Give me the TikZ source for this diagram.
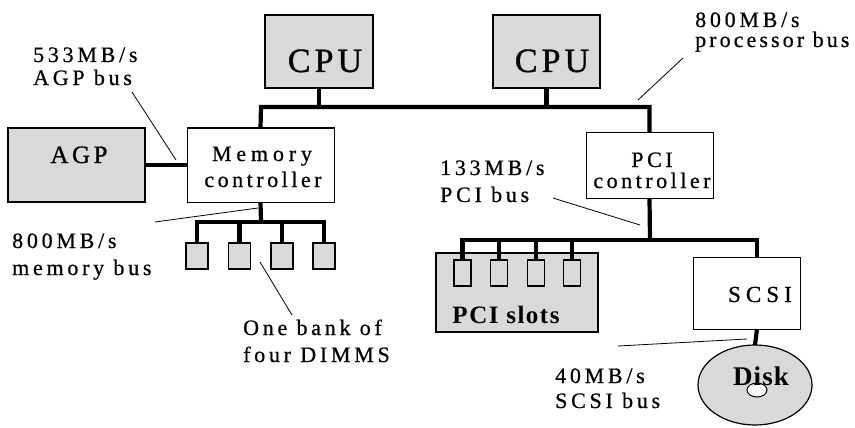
\documentclass[tikz,border=0pt]{standalone}
\usepackage{fontspec}
\setmainfont{Liberation Serif}
\usetikzlibrary{shapes.geometric}
\tikzset{
  bus/.style={line width=4.2pt},
  lead/.style={line width=0.8pt},
  graybox/.style={draw, line width=1.2pt, fill=black!15, inner sep=0pt, outer sep=0pt},
  whitebox/.style={draw, line width=1pt, fill=white, inner sep=0pt, outer sep=0pt},
  lbl/.style={font=\fontsize{22}{24}\selectfont\addfontfeature{LetterSpace=17,FakeBold=0.6}, inner sep=0pt, anchor=base west},
  boxtxt/.style={font=\fontsize{22}{24}\selectfont\addfontfeature{LetterSpace=16,FakeBold=0.6}, inner sep=0pt, anchor=base},
  bigtxt/.style={font=\fontsize{34}{36}\selectfont\addfontfeature{LetterSpace=12,FakeBold=1}, inner sep=0pt, anchor=base},
  boldtxt/.style={font=\fontsize{25}{27}\selectfont\bfseries\addfontfeature{LetterSpace=6}, inner sep=0pt, anchor=base},
}
\begin{document}
\begin{tikzpicture}[x=1pt,y=-1pt]
\useasboundingbox (0,0) rectangle (855,428);
% boxes
\node[graybox, minimum width=108pt, minimum height=73pt] (cpu1) at (319,51.5) {};
\node[graybox, minimum width=107pt, minimum height=73pt] (cpu2) at (546.5,51.5) {};
\node[graybox, minimum width=137pt, minimum height=74pt] (agp) at (76.5,165) {};
\node[whitebox, minimum width=147pt, minimum height=74pt] (mc) at (260.5,165) {};
\node[whitebox, minimum width=127pt, minimum height=66pt] (pci) at (649.5,165) {};
\node[graybox, minimum width=162pt, minimum height=79pt] (slots) at (517,292.5) {};
\node[whitebox, minimum width=107pt, minimum height=72pt] (scsi) at (746.5,293) {};
\node[graybox, ellipse, minimum width=114pt, minimum height=80pt] (disk) at (755,385) {};
\node[draw, line width=1pt, fill=white, ellipse, minimum width=20pt, minimum height=14pt, inner sep=0pt] (hole) at (757,390) {};
% DIMMs
\foreach \i/\x in {1/197,2/239.5,3/282,4/324}
  \node[graybox, minimum width=22pt, minimum height=26pt] (d\i) at (\x,256) {};
% slots
\foreach \i/\x in {1/462.5,2/499,3/536,4/572}
  \node[graybox, minimum width=17pt, minimum height=26pt] (s\i) at (\x,273) {};
% box texts
\node[bigtxt] (cpu1t) at (325,72) {CPU};
\node[bigtxt] (cpu2t) at (552,72) {CPU};
\node[boxtxt, font=\fontsize{25}{27}\selectfont\addfontfeature{LetterSpace=14,FakeBold=0.8}] (agpt) at (79,163) {AGP};
\node[boxtxt, font=\fontsize{22}{24}\selectfont\addfontfeature{LetterSpace=22,FakeBold=0.6}] (mct1) at (262,161) {Memory};
\node[boxtxt] (mct2) at (263,187) {controller};
\node[boxtxt] (pcit1) at (652,167) {PCI};
\node[boxtxt] (pcit2) at (652,188) {controller};
\node[boxtxt, font=\fontsize{23}{25}\selectfont\addfontfeature{LetterSpace=22,FakeBold=0.6}] (scsit) at (760,302) {SCSI};
\node[boldtxt] (slotst) at (506,323) {PCI slots};
\node[boldtxt, font=\fontsize{27}{29}\selectfont\bfseries\addfontfeature{LetterSpace=4}] (diskt) at (761,385) {Disk};
% buses
\coordinate (pb) at (261,107);
\draw[bus] (mc.north) -- (pb) -| (pci.north);
\draw[bus] (cpu1.south) -- (cpu1.south |- pb);
\draw[bus] (cpu2.south) -- (cpu2.south |- pb);
\draw[bus] (agp.east) -- (agp.east -| mc.west);
\coordinate (mb) at (261,222);
\draw[bus] (mc.south) -- (mb);
\draw[bus] (d1.north) -- (d1.north |- mb) -- (d4.north |- mb) -- (d4.north);
\draw[bus] (d2.north) -- (d2.north |- mb);
\draw[bus] (d3.north) -- (d3.north |- mb);
\coordinate (cb) at (650,240);
\coordinate (scsiin) at (757,257);
\draw[bus] (pci.south) -- (cb);
\draw[bus] (s1.north) -- (s1.north |- cb) -- (scsiin |- cb) -- (scsiin);
\foreach \i in {2,3,4} \draw[bus] (s\i.north) -- (s\i.north |- cb);
\coordinate (scsiout) at (757,329);
\draw[bus] (scsiout) -- (disk.north);
% labels
\node[lbl] (l1a) at (33,62) {533MB/s};
\node[lbl] (l1b) at (33,85) {AGP bus};
\node[lbl] (l2a) at (695,27) {800MB/s};
\node[lbl, font=\fontsize{22}{24}\selectfont\addfontfeature{LetterSpace=14,FakeBold=0.6}] (l2b) at (695,47) {processor bus};
\node[lbl] (l3a) at (440,175) {133MB/s};
\node[lbl] (l3b) at (440,202) {PCI bus};
\node[lbl] (l4a) at (12,248) {800MB/s};
\node[lbl] (l4b) at (12,275) {memory bus};
\node[lbl] (l5a) at (243,335) {One bank of};
\node[lbl] (l5b) at (243,362) {four DIMMS};
\node[lbl] (l6a) at (555,383) {40MB/s};
\node[lbl] (l6b) at (555,408) {SCSI bus};
% leaders
\coordinate (a1) at (132,92); \coordinate (a2) at (176,160);
\draw[lead] (a1) -- (a2);
\coordinate (p1) at (683,58); \coordinate (p2) at (638,100);
\draw[lead] (p1) -- (p2);
\coordinate (c1) at (553,198); \coordinate (c2) at (640,225);
\draw[lead] (c1) -- (c2);
\coordinate (m1) at (155,222); \coordinate (m2) at (258,208);
\draw[lead] (m1) -- (m2);
\coordinate (b1) at (260,262); \coordinate (b2) at (292,315);
\draw[lead] (b1) -- (b2);
\coordinate (q1) at (618,346); \coordinate (q2) at (747,339);
\draw[lead] (q1) -- (q2);
\end{tikzpicture}
\end{document}
